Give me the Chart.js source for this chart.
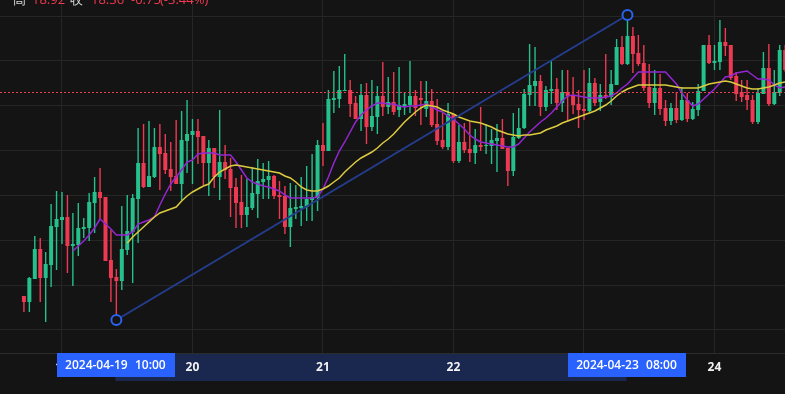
<!DOCTYPE html>
<html>
<head>
<meta charset="utf-8">
<title>K线图</title>
<script src="https://cdn.jsdelivr.net/npm/chart.js@4.4.0/dist/chart.umd.min.js"></script>
<style>
    html, body { margin: 0; padding: 0; background: #141414; }
    #wrap { width: 785px; height: 394px; }
</style>
</head>
<body>
<div id="wrap"><canvas id="kline" width="785" height="394"></canvas></div>
<script>
// horas relativas a 2024-04-19 00:00 (primera vela = 2024-04-18 17:00)
const firstHour = -7;

const openPrices = [
    17.04, 16.98, 17.21, 17.51, 17.22, 17.35, 17.73, 17.80, 17.83, 17.54,
    17.55, 17.71, 17.72, 17.97, 18.08, 18.03, 17.40, 17.23, 17.19, 17.50,
    17.68, 18.01, 18.37, 18.13, 18.23, 18.53, 18.47, 18.31, 18.24, 18.16,
    18.59, 18.65, 18.69, 18.64, 18.37, 18.52, 18.23, 18.38, 18.31, 18.13,
    17.98, 17.85, 17.92, 18.06, 18.18, 18.20, 18.24, 18.05, 18.04, 17.73,
    17.91, 17.92, 17.93, 18.00, 18.02, 18.55, 18.49, 19.00, 19.01, 19.09,
    19.10, 18.97, 18.81, 19.05, 18.73, 18.83, 19.04, 18.93, 18.98, 18.90,
    18.94, 18.95, 19.04, 19.02, 18.91, 18.99, 18.76, 18.60, 18.53, 18.86,
    18.39, 18.58, 18.51, 18.47, 18.55, 18.54, 18.54, 18.59, 18.62, 18.52,
    18.29, 18.62, 18.72, 19.05, 19.14, 19.19, 18.93, 19.09, 19.11, 18.97,
    19.08, 19.04, 18.96, 18.91, 18.89, 19.17, 18.98, 19.05, 19.03, 19.15,
    19.53, 19.36, 19.64, 19.47, 19.37, 19.13, 18.97, 19.12, 18.92, 18.79,
    18.92, 18.80, 19.00, 18.81, 18.90, 19.09, 19.55, 19.37, 19.38, 19.58,
    19.55, 19.24, 19.08, 19.05, 19.00, 18.78, 19.06, 19.32, 18.96, 19.07,
    19.50
];
const highPrices = [
    17.04, 17.23, 17.64, 17.62, 17.48, 17.96, 18.09, 18.08, 18.05, 17.87,
    17.97, 17.82, 18.07, 18.23, 18.32, 18.03, 17.70, 17.31, 17.94, 18.05,
    18.06, 18.72, 18.76, 18.79, 18.72, 18.76, 18.66, 18.58, 18.80, 18.89,
    19.00, 18.81, 18.81, 18.64, 18.60, 18.52, 18.90, 18.55, 18.42, 18.22,
    18.25, 18.21, 18.33, 18.41, 18.37, 18.39, 18.25, 18.19, 18.14, 18.17,
    18.15, 18.23, 18.34, 18.46, 18.60, 18.77, 19.10, 19.29, 19.34, 19.46,
    19.20, 19.04, 19.16, 19.17, 19.20, 19.14, 19.38, 19.23, 19.28, 19.33,
    19.08, 19.39, 19.10, 19.19, 19.19, 19.11, 19.01, 18.87, 18.97, 18.86,
    18.75, 18.77, 18.78, 18.71, 18.93, 18.76, 18.71, 18.76, 18.81, 18.52,
    18.87, 18.92, 19.11, 19.56, 19.53, 19.25, 19.14, 19.40, 19.22, 19.30,
    19.30, 19.23, 19.10, 19.30, 19.32, 19.22, 19.16, 19.46, 19.30, 19.61,
    19.64, 19.85, 19.73, 19.65, 19.55, 19.36, 19.30, 19.26, 19.00, 18.97,
    19.08, 19.13, 19.07, 18.98, 19.16, 19.55, 19.65, 19.55, 19.80, 19.72,
    19.55, 19.28, 19.20, 19.20, 19.05, 19.12, 19.48, 19.56, 19.30, 19.55,
    19.55
];
const lowPrices = [
    16.88, 16.88, 17.21, 16.98, 16.78, 17.13, 17.30, 17.56, 17.27, 17.14,
    17.44, 17.62, 17.59, 17.67, 17.80, 17.39, 16.98, 16.80, 17.10, 17.45,
    17.17, 17.57, 18.12, 18.13, 18.22, 18.10, 18.26, 18.09, 18.16, 18.00,
    18.27, 18.16, 18.36, 18.15, 18.04, 18.12, 18.00, 18.21, 17.83, 17.72,
    17.72, 17.73, 17.90, 17.82, 18.01, 18.01, 18.01, 17.81, 17.66, 17.53,
    17.81, 17.74, 17.79, 17.79, 17.89, 18.34, 18.49, 18.87, 18.92, 19.09,
    18.83, 18.81, 18.69, 18.56, 18.69, 18.66, 18.84, 18.86, 18.85, 18.83,
    18.85, 18.87, 18.84, 18.75, 18.83, 18.73, 18.55, 18.51, 18.50, 18.37,
    18.37, 18.47, 18.38, 18.36, 18.49, 18.46, 18.36, 18.28, 18.51, 18.14,
    18.24, 18.61, 18.71, 18.94, 18.94, 18.84, 18.89, 18.96, 18.90, 18.88,
    18.78, 18.86, 18.72, 18.80, 18.88, 18.94, 18.89, 19.01, 18.95, 19.15,
    19.35, 19.35, 19.27, 19.34, 19.09, 18.92, 18.85, 18.85, 18.74, 18.75,
    18.77, 18.79, 18.78, 18.80, 18.84, 19.09, 19.36, 19.30, 19.30, 19.44,
    19.20, 18.99, 18.98, 18.90, 18.76, 18.76, 19.06, 18.94, 18.95, 19.04,
    19.28
];
const closePrices = [
    16.98, 17.22, 17.51, 17.22, 17.36, 17.74, 17.81, 17.83, 17.54, 17.56,
    17.72, 17.73, 17.98, 18.08, 18.02, 17.39, 17.22, 17.19, 17.51, 17.69,
    18.02, 18.37, 18.13, 18.24, 18.53, 18.46, 18.30, 18.23, 18.16, 18.60,
    18.66, 18.69, 18.63, 18.37, 18.52, 18.23, 18.38, 18.30, 18.12, 17.97,
    17.85, 17.93, 18.07, 18.19, 18.21, 18.24, 18.04, 18.03, 17.73, 17.92,
    17.93, 17.94, 18.01, 18.03, 18.55, 18.49, 19.01, 19.02, 19.10, 19.10,
    18.96, 18.81, 19.05, 18.73, 18.84, 19.04, 18.93, 18.98, 18.88, 18.95,
    18.96, 19.04, 18.92, 19.00, 18.99, 18.75, 18.59, 18.53, 18.86, 18.39,
    18.58, 18.50, 18.47, 18.55, 18.53, 18.55, 18.60, 18.62, 18.51, 18.29,
    18.63, 18.72, 19.06, 19.15, 19.19, 18.93, 19.10, 19.11, 18.97, 19.08,
    19.04, 18.95, 18.90, 18.89, 19.17, 18.97, 19.05, 19.03, 19.16, 19.53,
    19.36, 19.64, 19.46, 19.36, 19.12, 18.97, 19.12, 18.91, 18.79, 18.92,
    18.80, 19.00, 18.81, 18.91, 19.09, 19.55, 19.37, 19.39, 19.58, 19.54,
    19.22, 19.06, 19.03, 19.00, 18.78, 19.07, 19.32, 18.96, 19.08, 19.50,
    19.30
];
// medias móviles (morada MA10, amarilla MA20)
const ma10 = [
    null, null, null, null, null, null, null, null, null, 17.49,
    17.54, 17.59, 17.65, 17.72, 17.81, 17.76, 17.71, 17.65, 17.65, 17.65,
    17.68, 17.76, 17.78, 17.80, 17.83, 17.95, 18.06, 18.16, 18.23, 18.30,
    18.38, 18.40, 18.46, 18.47, 18.47, 18.47, 18.45, 18.45, 18.45, 18.38,
    18.30, 18.22, 18.18, 18.16, 18.14, 18.13, 18.11, 18.09, 18.05, 18.02,
    18.02, 18.02, 18.02, 18.02, 18.03, 18.11, 18.23, 18.37, 18.49, 18.58,
    18.68, 18.78, 18.85, 18.90, 18.94, 18.97, 18.97, 18.96, 18.96, 18.94,
    18.93, 18.94, 18.94, 18.95, 18.96, 18.93, 18.90, 18.88, 18.84, 18.81,
    18.76, 18.71, 18.65, 18.61, 18.58, 18.57, 18.56, 18.55, 18.54, 18.53,
    18.53, 18.56, 18.62, 18.68, 18.73, 18.78, 18.82, 18.87, 18.93, 18.99,
    19.04, 19.05, 19.04, 19.03, 19.02, 19.02, 19.02, 19.03, 19.04, 19.07,
    19.12, 19.16, 19.22, 19.28, 19.28, 19.28, 19.28, 19.28, 19.28, 19.22,
    19.16, 19.07, 19.00, 18.94, 18.96, 19.01, 19.06, 19.11, 19.17, 19.23,
    19.24, 19.27, 19.28, 19.29, 19.25, 19.21, 19.21, 19.20, 19.15, 19.12,
    19.13
];
const ma20 = [
    null, null, null, null, null, null, null, null, null, null,
    null, null, null, null, null, null, null, null, null, 17.57,
    17.63, 17.68, 17.73, 17.78, 17.83, 17.87, 17.89, 17.91, 17.93, 17.99,
    18.04, 18.08, 18.11, 18.14, 18.16, 18.23, 18.28, 18.31, 18.34, 18.35,
    18.34, 18.33, 18.32, 18.31, 18.30, 18.29, 18.28, 18.27, 18.24, 18.22,
    18.18, 18.13, 18.10, 18.09, 18.09, 18.11, 18.14, 18.18, 18.22, 18.28,
    18.33, 18.38, 18.42, 18.45, 18.48, 18.52, 18.57, 18.61, 18.66, 18.72,
    18.78, 18.83, 18.88, 18.92, 18.95, 18.94, 18.93, 18.90, 18.88, 18.86,
    18.83, 18.81, 18.79, 18.78, 18.77, 18.75, 18.73, 18.70, 18.68, 18.66,
    18.65, 18.64, 18.65, 18.65, 18.66, 18.67, 18.70, 18.72, 18.74, 18.77,
    18.79, 18.81, 18.83, 18.85, 18.87, 18.89, 18.92, 18.95, 18.99, 19.04,
    19.08, 19.11, 19.13, 19.15, 19.15, 19.15, 19.15, 19.15, 19.15, 19.14,
    19.13, 19.12, 19.12, 19.12, 19.12, 19.14, 19.16, 19.17, 19.18, 19.19,
    19.18, 19.16, 19.14, 19.12, 19.11, 19.11, 19.12, 19.13, 19.15, 19.17,
    19.18
];

const dayTicks = [0, 24, 48, 72, 96, 120];
const dayLabels = ['19', '20', '21', '22', '23', '24'];
// línea de tendencia: mínimo del 19 10:00 -> máximo del 23 08:00
const trendHours = [10, 104];
const trendPrices = [16.80, 19.85];
const markerLabels = [['2024-04-19', '10:00'], ['2024-04-23', '08:00']];
const lastPrice = 19.075;
const legendParts = [
    ['高', '#d9d9d9'], ['18.92', '#f0394f'], ['收', '#d9d9d9'],
    ['18.36', '#f0394f'], ['-0.75', '#f0394f'], ['(-3.44%)', '#f0394f']
];
const legendX = [13, 32, 70, 91, 131, 160];

const BG = '#141414';
const GRID = '#262626';
const UP = '#25c08c';
const DOWN = '#ed3a52';
const X_MIN = -11.4, X_MAX = 132.97;
const gridTop = 19.84, gridStep = 0.4485;

const hours = openPrices.map((_, i) => firstHour + i);
const candleColors = hours.map((_, i) => closePrices[i] >= openPrices[i] ? UP : DOWN);

const decorPlugin = {
    id: 'decor',
    beforeDraw(chart) {
        const { ctx, width, height } = chart;
        const x = chart.scales.x;
        ctx.save();
        ctx.fillStyle = BG;
        ctx.fillRect(0, 0, width, height);
        // rango seleccionado en el eje de tiempo
        const x1 = x.getPixelForValue(trendHours[0]);
        const x2 = x.getPixelForValue(trendHours[1]);
        ctx.fillStyle = '#1a2850';
        ctx.fillRect(x1 - 1, x.top + 1, x2 - x1, 27);
        ctx.restore();
    },
    afterDraw(chart) {
        const { ctx } = chart;
        const x = chart.scales.x;
        ctx.save();
        ctx.font = '600 12px "Open Sans", sans-serif';
        ctx.textBaseline = 'middle';
        ctx.textAlign = 'center';
        trendHours.forEach((h, i) => {
            const cx = x.getPixelForValue(h);
            ctx.fillStyle = '#2962ff';
            ctx.fillRect(Math.round(cx - 59), x.top, 118, 24);
            ctx.fillStyle = '#ffffff';
            ctx.fillText(markerLabels[i][0], cx - 20, x.top + 13);
            ctx.fillText(markerLabels[i][1], cx + 34, x.top + 13);
        });
        // leyenda superior (cortada por el borde)
        ctx.font = '13px "Open Sans", sans-serif';
        ctx.textAlign = 'left';
        ctx.textBaseline = 'alphabetic';
        legendParts.forEach(([txt, color], i) => {
            ctx.fillStyle = color;
            ctx.fillText(txt, legendX[i], 4);
        });
        ctx.restore();
    }
};

const ctx = document.getElementById('kline');
new Chart(ctx, {
    type: 'bar',
    data: {
        datasets: [
            {
                label: 'trend',
                type: 'line',
                data: trendHours.map((h, i) => ({ x: h, y: trendPrices[i] })),
                borderColor: '#243d8e',
                borderWidth: 2,
                pointRadius: 5,
                pointBorderWidth: 2,
                pointBorderColor: '#2a63f0',
                pointBackgroundColor: BG,
                order: 0
            },
            {
                label: 'last',
                type: 'line',
                data: [{ x: X_MIN, y: lastPrice }, { x: X_MAX, y: lastPrice }],
                borderColor: '#e8404f',
                borderWidth: 1,
                borderDash: [2, 2],
                pointRadius: 0,
                order: 1
            },
            {
                label: 'MA20',
                type: 'line',
                data: hours.map((h, i) => ({ x: h, y: ma20[i] })),
                borderColor: '#dccb3e',
                borderWidth: 1.5,
                pointRadius: 0,
                order: 2
            },
            {
                label: 'MA10',
                type: 'line',
                data: hours.map((h, i) => ({ x: h, y: ma10[i] })),
                borderColor: '#9526d4',
                borderWidth: 1.5,
                pointRadius: 0,
                order: 3
            },
            {
                label: 'body',
                data: hours.map((h, i) => ({ x: h, y: [openPrices[i], closePrices[i]] })),
                backgroundColor: candleColors,
                barThickness: 4,
                minBarLength: 1,
                inflateAmount: 0,
                grouped: false,
                order: 4
            },
            {
                label: 'wick',
                data: hours.map((h, i) => ({ x: h, y: [lowPrices[i], highPrices[i]] })),
                backgroundColor: candleColors,
                barThickness: 1.4,
                inflateAmount: 0,
                grouped: false,
                order: 5
            }
        ]
    },
    options: {
        responsive: false,
        animation: false,
        devicePixelRatio: 1,
        layout: { padding: 0, autoPadding: false },
        plugins: {
            legend: { display: false },
            tooltip: { enabled: false }
        },
        scales: {
            x: {
                type: 'linear',
                min: X_MIN,
                max: X_MAX,
                offset: false,
                afterBuildTicks: (s) => { s.ticks = dayTicks.map(v => ({ value: v })); },
                afterFit: (s) => { s.height = 41; s.paddingLeft = 0; s.paddingRight = 0; },
                grid: { color: GRID, drawTicks: false, offset: false },
                border: { display: true, color: '#2c2c2c' },
                ticks: {
                    color: '#f2f2f2',
                    font: { family: 'Open Sans', size: 12, weight: 'bold' },
                    padding: 7,
                    maxRotation: 0,
                    autoSkip: false,
                    callback: (v, i) => dayLabels[i]
                }
            },
            y: {
                position: 'right',
                min: 16.47,
                max: 20.00,
                afterBuildTicks: (s) => {
                    s.ticks = Array.from({ length: 8 }, (_, k) => ({ value: gridTop - k * gridStep }));
                },
                afterFit: (s) => { s.width = 0; },
                grid: { color: GRID, drawTicks: false },
                border: { display: false },
                ticks: { display: false }
            }
        }
    },
    plugins: [decorPlugin]
});
</script>
</body>
</html>
